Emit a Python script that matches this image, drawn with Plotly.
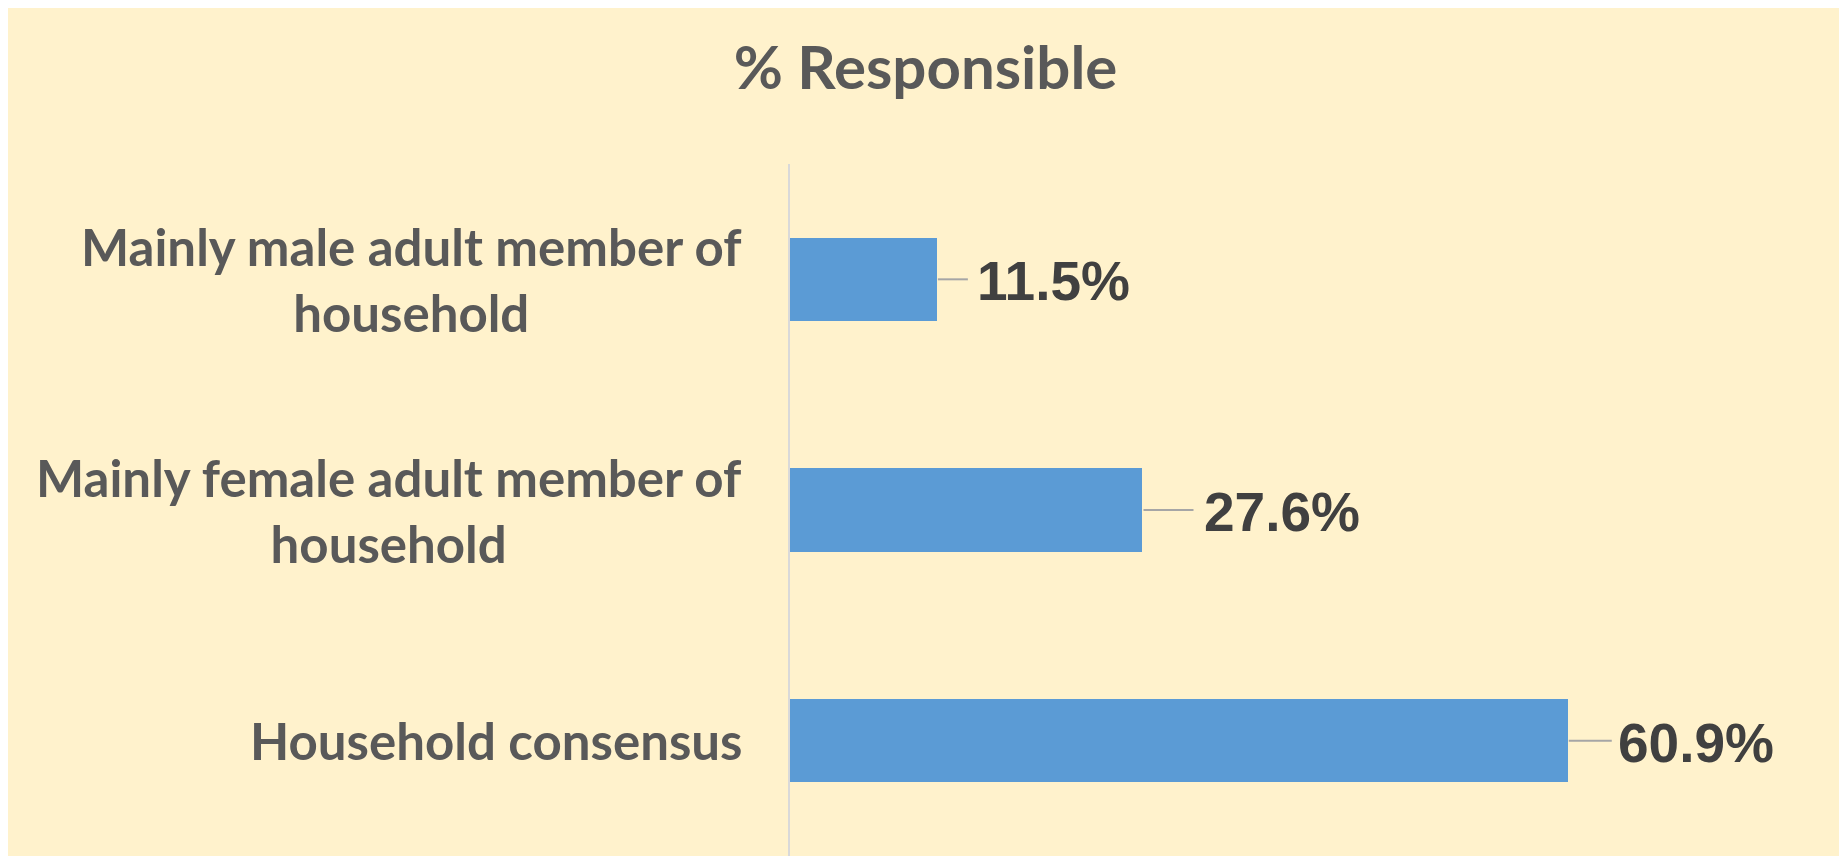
import plotly.graph_objects as go

categories = ["Mainly male adult member of<br>household",
              "Mainly female adult member of<br>household",
              "Household consensus"]
values = [11.5, 27.6, 60.9]
value_labels = ["11.5%", "27.6%", "60.9%"]
label_gaps = [40, 62, 50]      # px gap between bar end and label
leader_lens = [30, 50, 43]     # px length of leader line

# page body has an 8px margin; figure sits at (8, 8)
W, H = 1835, 848
ML, MR, MT, MB = 782, 159, 156, 0

fig = go.Figure()
fig.add_trace(go.Bar(
    y=categories, x=values, orientation="h",
    marker=dict(color="#5B9BD5", line=dict(width=0)),
    width=0.36, showlegend=False, hoverinfo="skip",
))

shapes = []
annotations = []
for cat, v, lab, g, ll in zip(categories, values, value_labels, label_gaps, leader_lens):
    shapes.append(dict(type="line", xref="x", yref="y", xsizemode="pixel",
                       xanchor=v, x0=1, x1=1 + ll, y0=cat, y1=cat,
                       line=dict(color="#A6A6A6", width=2)))
    annotations.append(dict(x=v, y=cat, xref="x", yref="y", text=lab,
                            showarrow=False, xanchor="left", yanchor="middle",
                            xshift=g - 2, yshift=-2,
                            font=dict(family="Liberation Sans, Arial", size=55,
                                      color="#404040", weight="bold")))
    annotations.append(dict(x=0, y=cat, xref="paper", yref="y", text="<b>" + cat + "</b>",
                            showarrow=False, xanchor="right", yanchor="middle",
                            align="center", xshift=-46,
                            font=dict(family="Lato, Carlito, Calibri", size=51,
                                      color="#595959")))

fig.update_layout(
    width=W, height=H,
    margin=dict(l=ML, r=MR, t=MT, b=MB, pad=0),
    paper_bgcolor="#FFF2CC", plot_bgcolor="rgba(0,0,0,0)",
    title=dict(text="<b>% Responsible</b>", x=0.5, xref="container", xanchor="center",
               y=1 - 60 / H, yanchor="middle",
               font=dict(family="Lato, Carlito, Calibri", size=60, color="#595959")),
    xaxis=dict(range=[0, 70], showgrid=False, zeroline=False, showticklabels=False,
               showline=False, ticks=""),
    yaxis=dict(autorange="reversed", showgrid=False, zeroline=False, showticklabels=False,
               showline=True, linecolor="#D9D9D9", linewidth=2, ticks=""),
    shapes=shapes, annotations=annotations,
    bargap=0,
)

fig.write_html("out.html")
